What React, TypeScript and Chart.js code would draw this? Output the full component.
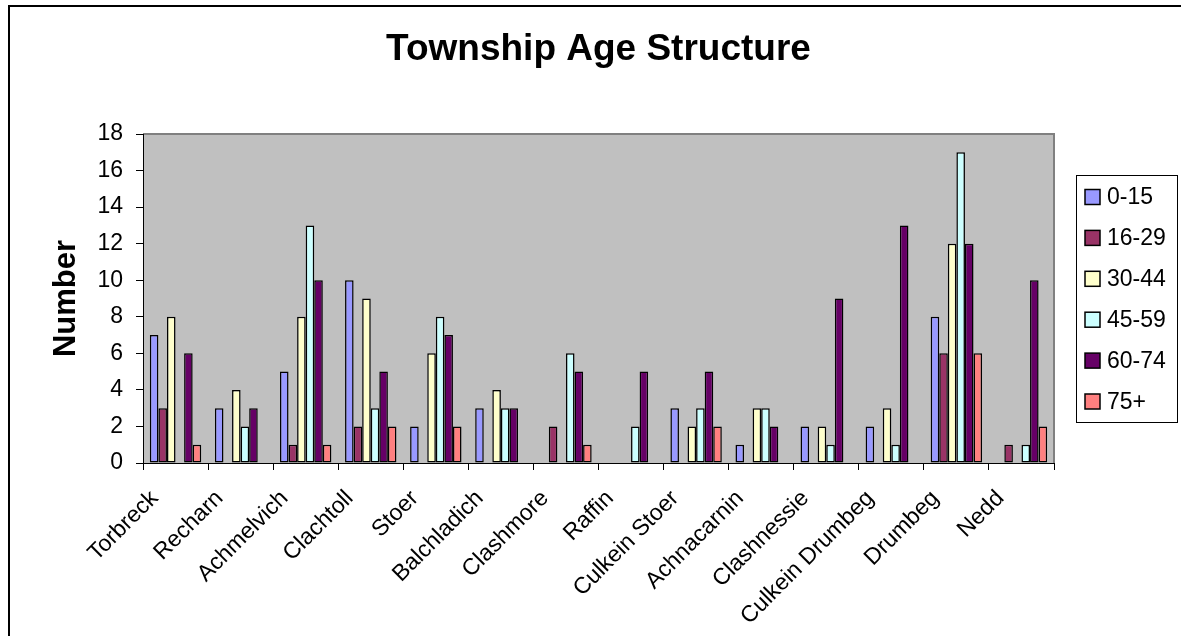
import React, { useEffect, useRef } from "react";
import { Chart, registerables } from "chart.js";

Chart.register(...registerables);

const chartTitle = "Township Age Structure";
const yAxisTitle = "Number";

const categories = [
  "Torbreck",
  "Recharn",
  "Achmelvich",
  "Clachtoll",
  "Stoer",
  "Balchladich",
  "Clashmore",
  "Raffin",
  "Culkein Stoer",
  "Achnacarnin",
  "Clashnessie",
  "Culkein Drumbeg",
  "Drumbeg",
  "Nedd",
];

const seriesNames = ["0-15", "16-29", "30-44", "45-59", "60-74", "75+"];
const seriesColors = ["#9999FF", "#993366", "#FFFFCC", "#CCFFFF", "#660066", "#FF8080"];

const age0to15 = [7, 3, 5, 10, 2, 3, 0, 0, 3, 1, 2, 2, 8, 0];
const age16to29 = [3, 0, 1, 2, 0, 0, 2, 0, 0, 0, 0, 0, 6, 1];
const age30to44 = [8, 4, 8, 9, 6, 4, 0, 0, 2, 3, 2, 3, 12, 0];
const age45to59 = [0, 2, 13, 3, 8, 3, 6, 2, 3, 3, 1, 1, 17, 1];
const age60to74 = [6, 3, 10, 5, 7, 3, 5, 5, 5, 2, 9, 13, 12, 10];
const age75plus = [1, 0, 1, 2, 2, 0, 1, 0, 2, 0, 0, 0, 6, 2];

const seriesValues = [age0to15, age16to29, age30to44, age45to59, age60to74, age75plus];

const yMin = 0;
const yMax = 18;
const yStep = 2;

const FONT = "'Liberation Sans', Arial, sans-serif";

const decorPlugin = {
  id: "decor",
  beforeDraw(chart: any) {
    const { ctx, chartArea: a } = chart;
    ctx.save();
    ctx.fillStyle = "#FFFFFF";
    ctx.fillRect(0, 0, chart.width, chart.height);
    // outer chart border (left and top visible)
    ctx.strokeStyle = "#000000";
    ctx.lineWidth = 2;
    ctx.beginPath();
    ctx.moveTo(9, chart.height);
    ctx.lineTo(9, 6);
    ctx.lineTo(chart.width, 6);
    ctx.stroke();
    // plot area
    ctx.fillStyle = "#C0C0C0";
    ctx.fillRect(a.left, a.top, a.right - a.left, a.bottom - a.top);
    ctx.strokeStyle = "#808080";
    ctx.lineWidth = 2;
    ctx.beginPath();
    ctx.moveTo(a.left, a.top);
    ctx.lineTo(a.right, a.top);
    ctx.lineTo(a.right, a.bottom);
    ctx.stroke();
    ctx.restore();
  },
  afterDraw(chart: any) {
    const { ctx, chartArea: a } = chart;
    ctx.save();
    // title
    ctx.fillStyle = "#000000";
    ctx.font = `bold 37px ${FONT}`;
    ctx.textAlign = "center";
    ctx.textBaseline = "alphabetic";
    ctx.fillText(chartTitle, (a.left + a.right) / 2, 60);
    // y axis title
    ctx.save();
    ctx.translate(75, (a.top + a.bottom) / 2);
    ctx.rotate(-Math.PI / 2);
    ctx.font = `bold 31px ${FONT}`;
    ctx.textAlign = "center";
    ctx.textBaseline = "alphabetic";
    ctx.fillText(yAxisTitle, 0, 0);
    ctx.restore();
    // legend
    const lx = 1076;
    const ly = 175;
    const lw = 101;
    const lh = 247;
    ctx.fillStyle = "#FFFFFF";
    ctx.fillRect(lx, ly, lw, lh);
    ctx.strokeStyle = "#000000";
    ctx.lineWidth = 1;
    ctx.strokeRect(lx + 0.5, ly + 0.5, lw, lh);
    chart.data.datasets.forEach((ds: any, i: number) => {
      const cy = 197 + i * 40.9;
      ctx.fillStyle = ds.backgroundColor;
      ctx.fillRect(1085, cy - 7.5, 15, 15);
      ctx.strokeStyle = "#000000";
      ctx.lineWidth = 1.5;
      ctx.strokeRect(1085, cy - 7.5, 15, 15);
      ctx.fillStyle = "#000000";
      ctx.font = `23px ${FONT}`;
      ctx.textAlign = "left";
      ctx.textBaseline = "middle";
      ctx.fillText(ds.label, 1107, cy + 1);
    });
    ctx.restore();
  },
};

export default function App() {
  const canvasRef = useRef<HTMLCanvasElement | null>(null);

  useEffect(() => {
    document.body.style.margin = "0";
    const canvas = canvasRef.current;
    if (!canvas) return;
    const chart = new Chart(canvas, {
      type: "bar",
      data: {
        labels: categories,
        datasets: seriesNames.map((name, i) => ({
          label: name,
          data: seriesValues[i],
          backgroundColor: seriesColors[i],
          borderColor: "#000000",
          borderWidth: 1.5,
          borderSkipped: false,
          categoryPercentage: 0.79,
          barPercentage: 1.0,
        })),
      },
      options: {
        responsive: false,
        animation: false,
        devicePixelRatio: 1,
        layout: { padding: { top: 134, right: 127, left: 0, bottom: 0 } },
        plugins: {
          legend: { display: false },
          title: { display: false },
          tooltip: { enabled: false },
        },
        scales: {
          x: {
            offset: true,
            afterFit: (s: any) => {
              s.height = 173;
            },
            grid: {
              display: true,
              offset: true,
              drawOnChartArea: false,
              drawTicks: true,
              tickLength: 7,
              color: "#000000",
            },
            border: { display: true, color: "#000000", width: 1 },
            ticks: {
              autoSkip: false,
              maxRotation: 45,
              minRotation: 45,
              padding: 15,
              labelOffset: -21,
              color: "#000000",
              font: { family: FONT, size: 23 },
            },
          },
          y: {
            min: yMin,
            max: yMax,
            afterFit: (s: any) => {
              s.width = 143;
            },
            grid: {
              display: true,
              drawOnChartArea: false,
              drawTicks: true,
              tickLength: 7,
              color: "#000000",
            },
            border: { display: true, color: "#000000", width: 1 },
            ticks: {
              stepSize: yStep,
              padding: 13,
              color: "#000000",
              font: { family: FONT, size: 23 },
            },
          },
        },
      },
      plugins: [decorPlugin],
    });
    return () => chart.destroy();
  }, []);

  return (
    <div style={{ width: 1181, height: 636 }}>
      <canvas ref={canvasRef} width={1181} height={636} style={{ display: "block" }} />
    </div>
  );
}
